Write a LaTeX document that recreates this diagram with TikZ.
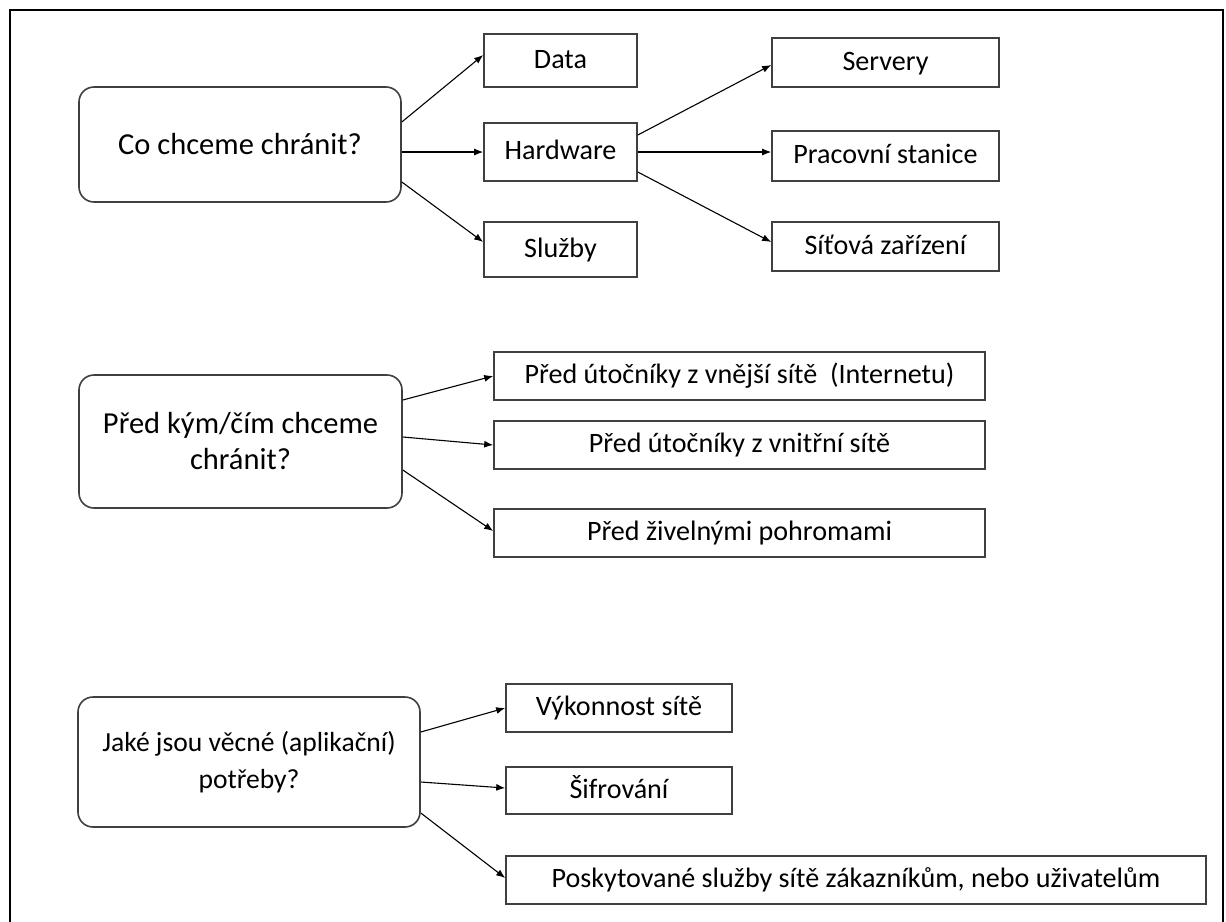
\documentclass[tikz,border=0pt]{standalone}
\usepackage{fontspec}
\setmainfont{Carlito}
\usepackage{tikz}
\usetikzlibrary{arrows.meta}

\begin{document}
\begin{tikzpicture}[x=1pt,y=-1pt,
  question/.style={draw=black!75, line width=1.6, rounded corners=15, align=center, inner sep=0, font=\fontsize{30.5}{36}\selectfont},
  answer/.style={draw=black!75, line width=1.6, inner sep=0, minimum height=49, text height=20pt, text depth=5pt, font=\fontsize{28.1}{33}\selectfont},
  link/.style={line width=1.1, -{Latex[length=9pt,width=7pt]}}]

\useasboundingbox (0,0) rectangle (1226,921);

% frame
\draw[line width=2] (10,930) -- (10,10) -- (1223,10) -- (1223,930);

% question nodes
\node[question, minimum width=322, minimum height=115] (chranit) at (240,144.5) {Co chceme chránit?};
\node[question, minimum width=323, minimum height=133] (pred) at (240.5,441.5) {Před kým/čím chceme\\chránit?};
\node[question, minimum width=342, minimum height=130, font=\fontsize{27.6}{37}\selectfont] (potreby) at (249,762) {Jaké jsou věcné (aplikační)\\potřeby?};

% what
\node[answer, minimum width=153, minimum height=53] (data) at (560.5,60.5) {Data};
\node[answer, minimum width=153, minimum height=58] (hardware) at (560.5,152) {Hardware};
\node[answer, minimum width=153, minimum height=55] (sluzby) at (560.5,249.5) {Služby};
\node[answer, minimum width=227] (servery) at (885.5,62.5) {Servery};
\node[answer, minimum width=227, minimum height=50] (stanice) at (885.5,156) {Pracovní stanice};
\node[answer, minimum width=227] (zarizeni) at (885.5,246.5) {Síťová zařízení};

% whom
\node[answer, minimum width=491, minimum height=48] (vnejsi) at (739.5,376) {Před útočníky z vnější sítě\ \ (Internetu)};
\node[answer, minimum width=491, minimum height=48] (vnitrni) at (739.5,445) {Před útočníky z vnitřní sítě};
\node[answer, minimum width=491, minimum height=48] (pohromy) at (739.5,533) {Před živelnými pohromami};

% needs
\node[answer, minimum width=226, minimum height=48] (vykon) at (619,708) {Výkonnost sítě};
\node[answer, minimum width=226, minimum height=47] (sifry) at (619,790.5) {Šifrování};
\node[answer, minimum width=700, minimum height=48] (zakaznici) at (856,880) {Poskytované služby sítě zákazníkům, nebo uživatelům};

% arrows
\draw[link] ([yshift=22.5pt]chranit.east) -- ([yshift=5.5pt]data.west);
\draw[link] (chranit.east |- hardware.west) -- (hardware.west);
\draw[link] ([yshift=-37.5pt]chranit.east) -- ([yshift=7.5pt]sluzby.west);
\draw[link] ([yshift=17pt]hardware.east) -- ([yshift=-2.5pt]servery.west);
\draw[link] (hardware.east) -- (hardware.east -| stanice.west);
\draw[link] ([yshift=-20pt]hardware.east) -- ([yshift=4.5pt]zarizeni.west);

\draw[link] ([yshift=41.5pt]pred.east) -- (vnejsi.west);
\draw[link] ([yshift=4.5pt]pred.east) -- (vnitrni.west);
\draw[link] ([yshift=-28.5pt]pred.east) -- ([yshift=2pt]pohromy.west);

\draw[link] ([yshift=30pt]potreby.east) -- (vykon.west);
\draw[link] ([yshift=-20pt]potreby.east) -- ([yshift=2.5pt]sifry.west);
\draw[link] ([yshift=-51pt]potreby.east) -- ([yshift=2pt]zakaznici.west);

\end{tikzpicture}
\end{document}
